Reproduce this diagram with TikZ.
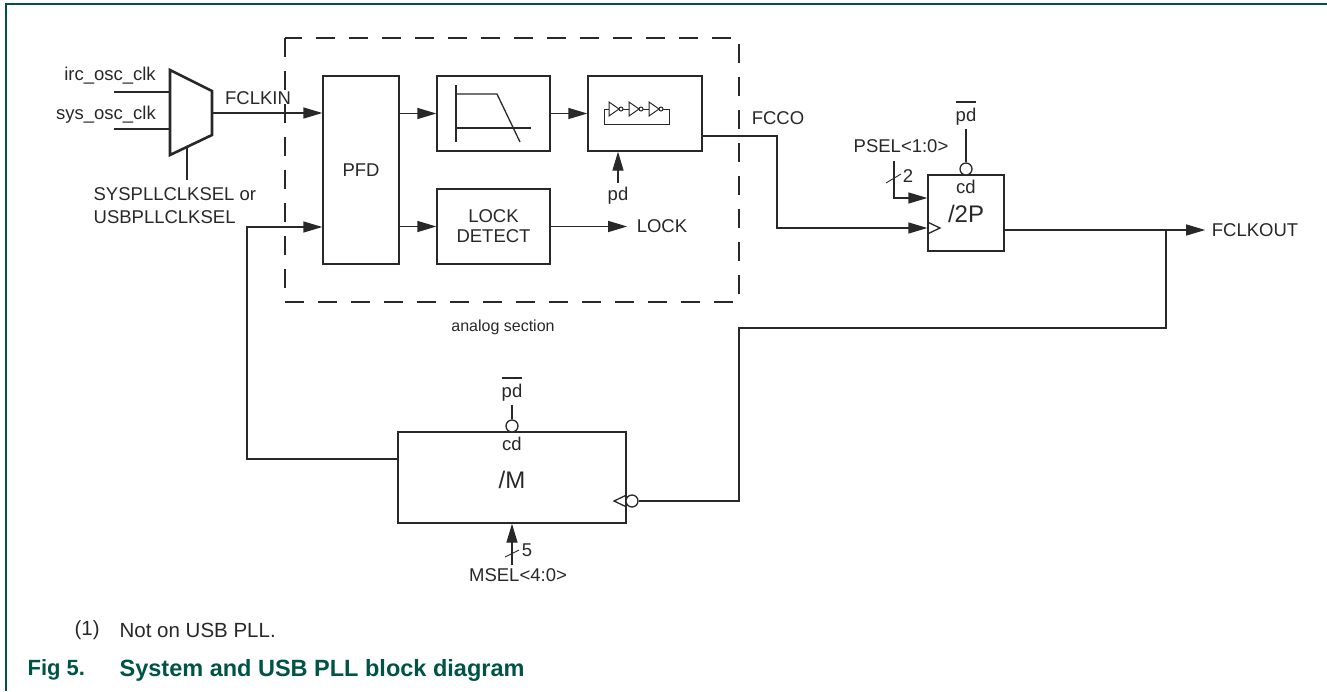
\documentclass[tikz,border=0pt]{standalone}
\usepackage{fontspec}
\setmainfont{Liberation Sans}
\usetikzlibrary{arrows.meta}
\definecolor{nxpgreen}{RGB}{0,84,70}
\definecolor{ink}{RGB}{40,40,40}
\newcommand\barpd{\vbox{\hrule height 1.6pt\kern5pt\hbox{pd}}}

\begin{document}
\begin{tikzpicture}[x=1pt,y=-1pt,line width=1.3pt,color=ink,
    font=\fontsize{18.5}{20}\selectfont,
    blk/.style={draw,rectangle,inner sep=0pt},
    lbl/.style={inner sep=3pt},
    sig/.style={-{Triangle[length=19pt,width=11pt]}},
    bub/.style={draw,circle,fill=white,inner sep=0pt,minimum size=12pt},
    big/.style={inner sep=3pt,font=\fontsize{24}{28}\selectfont},
    figcap/.style={inner sep=0pt,anchor=west,text=nxpgreen,font=\fontsize{23.5}{26}\selectfont\bfseries}]
    \useasboundingbox (0,0) rectangle (1327,691);
    \draw[nxpgreen,line width=2pt] (1327,4) -- (6,4) -- (6,691);

    % analog section
    \draw[dash pattern=on 19pt off 14pt] (285,38) rectangle (739,302);
    \node[lbl,font=\fontsize{16}{18}\selectfont] (analog) at (503,327) {analog section};
    \node[blk,minimum width=76pt,minimum height=188pt] (pfd) at (361,170) {PFD};
    \node[blk,minimum width=113pt,minimum height=75pt] (lpf) at (493.5,113.5) {};
    \node[blk,minimum width=114pt,minimum height=75pt] (vco) at (645,113.5) {};
    \node[blk,minimum width=113pt,minimum height=75pt,align=center] (lock) at (493.5,226.5) {LOCK\\DETECT};
    \node[lbl] (lockout) at (662,226.5) {LOCK};
    \node[lbl] (pdvco) at (618,195.5) {pd};

    % filter and ring oscillator
    \draw (456,85) -- (456,142);
    \draw (456,94) -- (497,94) -- (520,142);
    \draw (456,128) -- (531,128);
    \foreach \i in {609,629,649} {
      \draw[line width=1pt] (\i,102) -- (\i+10,109) -- (\i,116) -- cycle;
      \draw[line width=1pt] (\i+12,109) circle (2pt);
      \draw[line width=1pt] (\i+14,109) -- (\i+20,109);
    }
    \draw[line width=1pt] (669,109) -- (669,124) -- (604,124) -- (604,109) -- (609,109);

    % input mux
    \node[lbl] (irc) at (110,76) {irc\_osc\_clk};
    \node[lbl] (sys) at (106,115) {sys\_osc\_clk};
    \node[lbl,anchor=west,align=left] (clksel) at (90,205.5) {SYSPLLCLKSEL or\\[3pt]USBPLLCLKSEL};
    \node[lbl] (fclkin) at (258,98) {FCLKIN};
    \draw[line width=2.6pt,line join=miter] (170,70) -- (212,91) -- (212,135) -- (170,155) -- cycle;
    \coordinate (muxout) at (212,113);
    \draw (114,92) -- (170,92);
    \draw (114,129) -- (170,129);
    \draw (187,147) -- (187,180);

    % post divider
    \node[blk,minimum width=76pt,minimum height=76pt] (div2p) at (966,213) {};
    \node[lbl] (cd2p) at (966,187) {cd};
    \node[big] (n2p) at (966,214) {/2P};
    \node[bub] (bub2p) at (966,169) {};
    \node[lbl] (pd2p) at (966,113) {\barpd};
    \node[lbl] (psel) at (901,146.5) {PSEL<1:0>};
    \coordinate (pselpin) at (894,161);
    \node[lbl,inner sep=0pt] (psel2) at (908,176) {2};
    \node[lbl] (fcco) at (778,118) {FCCO};
    \node[lbl] (fclkout) at (1255,230) {FCLKOUT};
    \coordinate (tap) at (1166,230);

    % feedback divider
    \node[blk,minimum width=228pt,minimum height=91pt] (divm) at (512,477.5) {};
    \node[lbl] (cdm) at (512,444) {cd};
    \node[big] (nm) at (512,480) {/M};
    \node[bub] (bubm) at (512,426) {};
    \node[bub] (bubclk) at (632,501) {};
    \node[lbl] (pdm) at (512,389) {\barpd};
    \node[lbl] (msel) at (518,575.5) {MSEL<4:0>};
    \node[lbl,inner sep=0pt] (msel5) at (527,550) {5};

    \path[sig]
      (muxout) edge (pfd.west |- muxout)
      (pfd.east |- lpf.west) edge (lpf.west)
      (lpf.east) edge (vco.west)
      (pfd.east |- lock.west) edge (lock.west)
      (lock.east) edge[shorten >=6pt] (lockout)
      (pdvco) edge (vco.south -| pdvco)
      (msel.north -| divm.south) edge (divm.south)
      (div2p.east |- tap) edge[shorten >=3pt] (fclkout);
    \path
      (pd2p) edge (bub2p)
      (pdm) edge (bubm);
    \draw[sig] (vco.east |- 0,136) -| (777,228) -- (div2p.west |- 0,228);
    \draw[sig] (pselpin) |- (div2p.west |- 0,198);
    \draw[sig] (divm.west |- 0,459) -| (247,227) -- (pfd.west |- 0,227);
    \draw (tap) |- (739,328) |- (bubclk.east);
    \draw (div2p.west |- 0,222) -- (940,228) -- (div2p.west |- 0,234);
    \draw (divm.east |- 0,495) -- (614,501) -- (divm.east |- 0,507);
    \draw[line width=0.9pt] (886,183) -- (901,174);
    \draw[line width=0.9pt] (505,557) -- (519,550);

    % note and caption
    \node[lbl,anchor=west,inner sep=0pt,font=\fontsize{20.5}{24}\selectfont] (note1) at (74,630) {(1)};
    \node[lbl,anchor=west,inner sep=0pt,font=\fontsize{20.5}{24}\selectfont] (note) at (119,630) {Not on USB PLL.};
    \node[figcap,font=\fontsize{22}{26}\selectfont\bfseries] (fig) at (27,670) {Fig 5.};
    \node[figcap] (title) at (119,670) {System and USB PLL block diagram};
\end{tikzpicture}
\end{document}
